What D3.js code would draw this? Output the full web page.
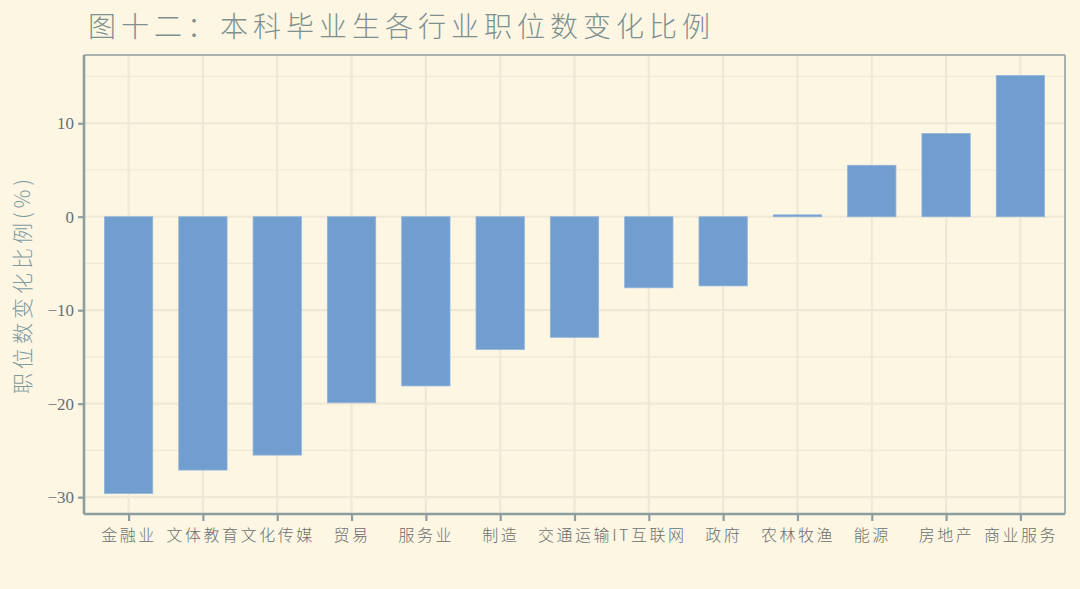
<!DOCTYPE html>
<html><head><meta charset="utf-8">
<script src="https://cdn.jsdelivr.net/npm/d3@7"></script>
<style>html,body{margin:0;padding:0;background:#fdf6e3;}</style>
</head><body>
<svg id="c" width="1080" height="589"></svg>
<script>
const categories = ["金融业","文体教育","文化传媒","贸易","服务业","制造","交通运输","IT互联网","政府","农林牧渔","能源","房地产","商业服务"];
const values = [-29.6,-27.1,-25.5,-19.9,-18.1,-14.2,-12.9,-7.6,-7.4,0.2,5.5,8.9,15.1];
const yTicks = [-30,-20,-10,0,10];
const yMinor = [-25,-15,-5,5,15];
const title = "图十二：本科毕业生各行业职位数变化比例";
const yTitle = "职位数变化比例(%)";

const svg = d3.select("#c");
svg.append("rect").attr("width",1080).attr("height",589).attr("fill","#fdf6e3");
const L=84,R=1065,T=55,B=514;
const y = d3.scaleLinear().domain([-31.8,17.3]).range([B,T]);
const n = categories.length;
const step = (R-L)/(n-1+1.2);
const x = d3.scalePoint().domain(categories).range([L+0.6*step, R-0.6*step]);
const bw = step*0.65;
const grid = "#efe8d6";
const g = svg.append("g");
yMinor.forEach(v=>g.append("line").attr("x1",L).attr("x2",R).attr("y1",y(v)).attr("y2",y(v)).attr("stroke",grid).attr("stroke-width",1.2));
yTicks.forEach(v=>g.append("line").attr("x1",L).attr("x2",R).attr("y1",y(v)).attr("y2",y(v)).attr("stroke",grid).attr("stroke-width",2.2));
categories.forEach(c=>g.append("line").attr("x1",x(c)).attr("x2",x(c)).attr("y1",T).attr("y2",B).attr("stroke",grid).attr("stroke-width",2.2));
g.selectAll("rect.bar").data(values).join("rect").attr("class","bar")
 .attr("x",(d,i)=>x(categories[i])-bw/2).attr("width",bw)
 .attr("y",d=>y(Math.max(0,d))).attr("height",d=>Math.abs(y(d)-y(0)))
 .attr("fill","#729ecf").attr("stroke","#8fb3da").attr("stroke-width",0.8);
// border
svg.append("line").attr("x1",L).attr("x2",R).attr("y1",T).attr("y2",T).attr("stroke","#a9b2ae").attr("stroke-width",2);
svg.append("line").attr("x1",R).attr("x2",R).attr("y1",T).attr("y2",B).attr("stroke","#a9b2ae").attr("stroke-width",2);
const axc="#8d9e9f";
const ya = svg.append("g").attr("transform",`translate(${L},0)`).call(d3.axisLeft(y).tickValues(yTicks).tickSize(6).tickPadding(4));
const xa = svg.append("g").attr("transform",`translate(0,${B})`).call(d3.axisBottom(x).tickSize(7).tickPadding(9));
[ya,xa].forEach(a=>{a.select(".domain").attr("stroke",axc).attr("stroke-width",2.6);a.selectAll(".tick line").attr("stroke",axc).attr("stroke-width",2.2);});
ya.select(".domain").attr("d",`M0,${T}V${B}`);
xa.select(".domain").attr("d",`M${L},0H${R}`);
ya.selectAll(".tick text").attr("fill","#6b6f6f").attr("font-family","Liberation Serif, serif").attr("font-size",17);
xa.selectAll(".tick text").attr("fill","#6b6f6f").attr("font-family","Noto Sans CJK SC, sans-serif").attr("font-size",16).attr("font-weight",300).attr("letter-spacing",2.5);
svg.append("text").attr("x",88).attr("y",37).text(title).attr("fill","#7e9090").attr("font-family","Noto Sans CJK SC, sans-serif").attr("font-size",28).attr("font-weight",300).attr("letter-spacing",5);
svg.append("text").attr("transform",`translate(30,${(T+B)/2}) rotate(-90)`).attr("text-anchor","middle").text(yTitle).attr("fill","#7d9aa0").attr("font-family","Noto Sans CJK SC, sans-serif").attr("font-size",21).attr("font-weight",300).attr("letter-spacing",4);
</script>
</body></html>
